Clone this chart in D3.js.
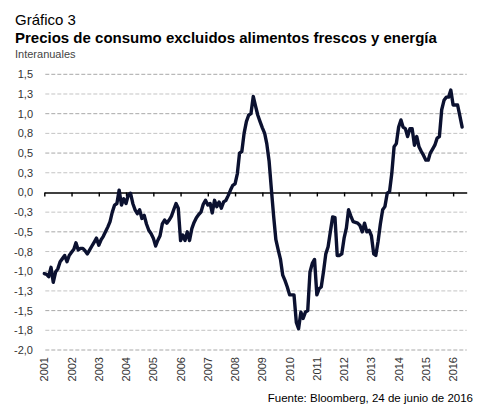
<!DOCTYPE html>
<html lang="es">
<head>
  <meta charset="UTF-8">
  <title>Gráfico 3</title>
  <script src="https://d3js.org/d3.v7.min.js"></script>
  <style>
    body {
      margin: 0;
      background: #fff;
      font-family: "Liberation Sans", Arial, sans-serif;
    }
    svg { display: block; }
    .tick-label { font-size: 11px; fill: #333; }
  </style>
</head>
<body>
  <svg id="chart" width="484" height="414"></svg>

  <script>
    // Monthly values, Jan 2001 .. May 2016 (% year on year)
    const startYear = 2001;
    const values = [
      -1.03, -1.04, -1.07, -0.95, -1.14, -1.01, -0.97, -0.88, -0.84, -0.80, -0.88, -0.80,
      -0.76, -0.72, -0.64, -0.73, -0.71, -0.71, -0.74, -0.78, -0.73, -0.68, -0.63, -0.58,
      -0.67, -0.60, -0.56, -0.50, -0.44, -0.37, -0.25, -0.16, -0.14, 0.03, -0.16, -0.08,
      -0.14, -0.03, -0.01, -0.14, -0.22, -0.27, -0.22, -0.33, -0.29, -0.40, -0.48, -0.52,
      -0.58, -0.68, -0.61, -0.55, -0.40, -0.35, -0.39, -0.35, -0.30, -0.22, -0.14, -0.20,
      -0.61, -0.54, -0.61, -0.50, -0.61, -0.46, -0.38, -0.32, -0.28, -0.25, -0.15, -0.10,
      -0.16, -0.14, -0.26, -0.10, -0.18, -0.12, -0.20, -0.12, -0.10, -0.04, 0.03, 0.09,
      0.11, 0.24, 0.50, 0.52, 0.75, 0.90, 0.98, 1.00, 1.22, 1.10, 0.98, 0.90,
      0.82, 0.75, 0.62, 0.40, 0.05, -0.30, -0.60, -0.73, -0.85, -1.05, -1.12, -1.20,
      -1.30, -1.30, -1.30, -1.65, -1.73, -1.52, -1.60, -1.52, -1.50, -1.01, -0.90, -0.85,
      -1.30, -1.22, -1.20, -1.00, -0.78, -0.69, -0.50, -0.31, -0.32, -0.80, -0.80, -0.78,
      -0.58, -0.45, -0.22, -0.30, -0.37, -0.38, -0.39, -0.42, -0.50, -0.39, -0.50, -0.48,
      -0.55, -0.78, -0.80, -0.62, -0.40, -0.22, -0.18, -0.01, 0.01, 0.24, 0.58, 0.62,
      0.83, 0.92, 0.83, 0.81, 0.71, 0.81, 0.81, 0.60, 0.71, 0.58, 0.52, 0.47,
      0.41, 0.41, 0.50, 0.55, 0.60, 0.69, 0.71, 1.05, 1.17, 1.21, 1.21, 1.30,
      1.11, 1.11, 1.11, 0.97, 0.83
    ];
    const yTicks = [1.5, 1.25, 1.0, 0.75, 0.5, 0.25, 0.0, -0.25, -0.5, -0.75, -1.0, -1.25, -1.5, -1.75, -2.0];
    const years = d3.range(2001, 2017);

    const title1 = "Gráfico 3";
    const title2 = "Precios de consumo excluidos alimentos frescos y energía";
    const subtitle = "Interanuales";
    const source = "Fuente: Bloomberg, 24 de junio de 2016";

    const data = values.map((v, i) => ({ date: new Date(startYear, i, 1), value: v }));

    const svg = d3.select("#chart");

    const x = d3.scaleTime()
      .domain([new Date(2001, 0, 1), new Date(2016, 6, 1)])
      .range([44.3, 466.7]);
    const y = d3.scaleLinear()
      .domain([-2, 1.5])
      .range([350, 74.3]);

    const fmt = v => d3.format(".1f")(v).replace(".", ",").replace("−", "-");

    // titles
    svg.append("text").attr("x", 15).attr("y", 25)
      .style("font-size", "15px").attr("fill", "#000").text(title1);
    svg.append("text").attr("x", 15).attr("y", 43)
      .style("font-size", "15px").style("font-weight", "bold").attr("fill", "#000").text(title2);
    svg.append("text").attr("x", 15).attr("y", 58)
      .style("font-size", "11px").attr("fill", "#444").text(subtitle);

    // grid lines
    svg.append("g")
      .selectAll("line")
      .data(yTicks.filter(d => d !== 0))
      .join("line")
      .attr("x1", x.range()[0] + 1)
      .attr("x2", x.range()[1])
      .attr("y1", d => y(d))
      .attr("y2", d => y(d))
      .attr("stroke", d => Number.isInteger(d * 2) ? "#a8a8a8" : "#c4c4c4")
      .attr("stroke-width", 1)
      .attr("stroke-dasharray", "4,2");

    // y labels
    svg.append("g")
      .selectAll("text")
      .data(yTicks)
      .join("text")
      .attr("class", "tick-label")
      .attr("x", 33)
      .attr("y", d => y(d) + 4)
      .attr("text-anchor", "end")
      .text(d => fmt(d));

    // zero axis with year ticks
    const xAxis = d3.axisBottom(x)
      .tickValues(years.map(yr => new Date(yr, 0, 1)))
      .tickSize(4)
      .tickSizeOuter(0)
      .tickFormat("");
    const gx = svg.append("g")
      .attr("transform", `translate(0,${y(0)})`)
      .call(xAxis);
    gx.select(".domain").attr("stroke", "#000").attr("stroke-width", 1.6);
    gx.selectAll(".tick line").attr("stroke", "#000").attr("stroke-width", 1.4);

    // year labels, rotated
    svg.append("g")
      .selectAll("text")
      .data(years)
      .join("text")
      .attr("class", "tick-label")
      .attr("text-anchor", "end")
      .attr("transform", d => `translate(${x(new Date(d, 0, 1)) + 4},357) rotate(-90)`)
      .text(d => d);

    // series line
    const line = d3.line()
      .x(d => x(d.date))
      .y(d => y(d.value));
    svg.append("path")
      .datum(data)
      .attr("d", line)
      .attr("fill", "none")
      .attr("stroke", "#0b1130")
      .attr("stroke-width", 3.4)
      .attr("stroke-linejoin", "round")
      .attr("stroke-linecap", "round");

    // source
    svg.append("text").attr("x", 473).attr("y", 402)
      .attr("text-anchor", "end")
      .style("font-size", "11.5px").attr("fill", "#000").text(source);
  </script>
</body>
</html>
